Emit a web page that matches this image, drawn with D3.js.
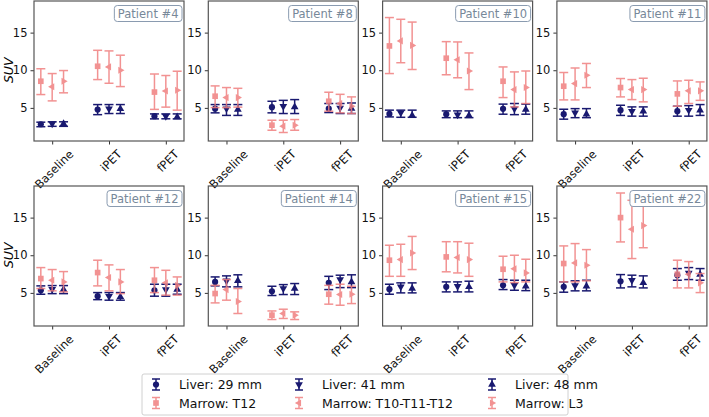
<!DOCTYPE html>
<html>
<head>
<meta charset="utf-8">
<script src="https://cdn.jsdelivr.net/npm/d3@7"></script>
<style>
  body { margin: 0; background: #fff; }
  svg { font-family: "DejaVu Sans", sans-serif; }
</style>
</head>
<body>
<svg id="chart" width="709" height="417"></svg>
<script>
const patients = ['Patient #4', 'Patient #8', 'Patient #10', 'Patient #11',
                  'Patient #12', 'Patient #14', 'Patient #15', 'Patient #22'];
const timepoints = ['Baseline', 'iPET', 'fPET'];
const liverSeries = ['Liver: 29 mm', 'Liver: 41 mm', 'Liver: 48 mm'];
const marrowSeries = ['Marrow: T12', 'Marrow: T10-T11-T12', 'Marrow: L3'];
const yTicks = [5, 10, 15];

// [patient][series][timepoint] = [mean, low, high]
const liverData = [
  [[[2.83, 2.5, 3.1], [4.78, 4.1, 5.44], [3.9, 3.54, 4.2]],
   [[2.9, 2.55, 3.15], [4.87, 4.25, 5.44], [3.9, 3.55, 4.2]],
   [[2.9, 2.55, 3.15], [4.87, 4.25, 5.44], [3.8, 3.54, 4.2]]],
  [[[4.9, 4.34, 5.44], [5.09, 4.34, 5.88], [4.9, 4.38, 5.58]],
   [[4.9, 4.0, 5.44], [5.22, 4.25, 6.0], [5.0, 4.25, 5.58]],
   [[4.78, 4.0, 5.44], [5.13, 4.25, 6.1], [4.9, 4.25, 5.65]]],
  [[[4.2, 3.8, 4.7], [4.16, 3.7, 4.6], [4.87, 4.16, 5.5]],
   [[4.34, 3.75, 4.7], [4.1, 3.7, 4.6], [4.87, 4.1, 5.58]],
   [[4.0, 3.75, 4.7], [4.0, 3.7, 4.6], [4.78, 4.16, 5.5]]],
  [[[4.16, 3.5, 4.82], [4.7, 4.0, 5.35], [4.56, 3.9, 5.22]],
   [[4.34, 3.7, 4.9], [4.56, 3.9, 5.13], [4.7, 3.9, 5.3]],
   [[4.16, 3.7, 4.9], [4.56, 3.9, 5.13], [4.7, 4.0, 5.44]]],
  [[[5.35, 4.82, 5.93], [4.56, 4.1, 5.04], [5.35, 4.56, 6.15]],
   [[5.49, 4.9, 5.97], [4.56, 4.03, 5.04], [5.44, 4.56, 6.15]],
   [[5.44, 4.9, 5.97], [4.47, 4.03, 5.04], [5.44, 4.82, 6.15]]],
  [[[6.46, 5.93, 7.12], [5.22, 4.65, 5.88], [6.33, 5.44, 7.2]],
   [[6.6, 5.8, 7.26], [5.58, 4.78, 6.1], [6.77, 5.7, 7.35]],
   [[6.6, 5.8, 7.4], [5.58, 4.78, 6.24], [6.46, 5.7, 7.4]]],
  [[[5.49, 4.82, 6.15], [5.8, 5.13, 6.46], [6.0, 5.44, 6.77]],
   [[5.8, 5.0, 6.33], [5.88, 5.13, 6.46], [6.0, 5.35, 6.68]],
   [[5.58, 5.0, 6.33], [5.8, 5.13, 6.55], [5.88, 5.3, 6.68]]],
  [[[5.8, 5.09, 6.46], [6.55, 5.66, 7.43], [7.35, 6.68, 8.23]],
   [[5.97, 5.27, 6.6], [6.68, 5.8, 7.35], [7.65, 6.77, 8.36]],
   [[5.88, 5.27, 6.68], [6.33, 5.66, 7.26], [7.43, 6.68, 8.23]]]
];

const marrowData = [
  [[[8.54, 6.77, 10.2], [10.53, 8.76, 12.65], [7.1, 4.8, 9.5]],
   [[7.8, 5.93, 9.56], [10.44, 8.27, 12.57], [7.25, 5.1, 9.3]],
   [[8.54, 7.0, 9.96], [10.0, 7.83, 12.0], [7.35, 4.7, 9.87]]],
  [[[6.55, 5.04, 7.92], [2.7, 2.03, 3.36], [5.88, 4.56, 7.08]],
   [[6.37, 5.04, 7.7], [2.57, 1.73, 3.36], [5.58, 4.34, 6.8]],
   [[6.37, 5.1, 7.6], [2.7, 2.03, 3.45], [5.22, 4.25, 6.46]]],
  [[[13.23, 9.56, 17.0], [11.6, 9.4, 13.8], [8.54, 6.37, 10.44]],
   [[13.9, 11.0, 16.77], [11.4, 9.0, 13.76], [7.43, 5.13, 9.78]],
   [[13.3, 10.1, 16.4], [9.9, 7.43, 12.3], [7.7, 5.58, 9.9]]],
  [[[7.88, 6.06, 9.7], [7.7, 6.46, 8.9], [6.86, 5.22, 8.58]],
   [[8.23, 6.06, 10.3], [7.43, 6.1, 8.76], [7.26, 5.58, 8.67]],
   [[9.34, 7.7, 10.9], [7.43, 5.8, 8.94], [7.26, 6.0, 8.45]]],
  [[[6.9, 5.58, 8.36], [7.7, 5.93, 9.34], [6.68, 5.04, 8.36]],
   [[6.68, 5.27, 8.1], [7.04, 5.27, 8.72], [6.33, 4.7, 8.0]],
   [[6.46, 5.13, 7.83], [6.46, 4.9, 8.1], [6.0, 4.7, 7.12]]],
  [[[4.91, 3.67, 6.0], [2.04, 1.46, 2.6], [4.82, 3.5, 6.0]],
   [[5.44, 4.03, 6.77], [2.26, 1.6, 2.83], [4.78, 3.36, 6.15]],
   [[3.85, 2.26, 5.58], [2.04, 1.46, 2.48], [4.82, 3.58, 5.88]]],
  [[[9.34, 7.2, 11.33], [9.78, 7.8, 11.8], [8.14, 6.46, 9.87]],
   [[9.42, 7.2, 11.46], [9.7, 7.65, 11.8], [8.19, 6.37, 10.0]],
   [[10.3, 8.1, 12.5], [9.42, 7.2, 11.6], [7.65, 6.46, 9.47]]],
  [[[8.9, 6.46, 11.24], [15.0, 11.77, 18.27], [7.48, 5.66, 9.34]],
   [[8.98, 6.46, 11.55], [13.45, 9.56, 17.3], [7.48, 5.66, 9.16]],
   [[8.67, 6.6, 10.75], [13.94, 11.0, 16.95], [6.33, 5.04, 7.57]]]
];

const liverColor = '#191970';
const marrowColor = '#f08080';
const offsets = [-0.2, 0, 0.2];

// marker for each series: symbol type + rotation
const liverMarkers = [
  { type: d3.symbolCircle, size: 30, rot: 0 },
  { type: d3.symbolTriangle, size: 26, rot: 180 },
  { type: d3.symbolTriangle, size: 26, rot: 0 }
];
const marrowMarkers = [
  { type: d3.symbolSquare, size: 32, rot: 0 },
  { type: d3.symbolTriangle, size: 22, rot: -90 },
  { type: d3.symbolTriangle, size: 22, rot: 90 }
];

const svg = d3.select('#chart');

const panelW = 150, panelH = 140;
const lefts = [34, 208.3, 382.6, 556.9];
const tops = [1, 186];

const x = d3.scaleLinear().domain([-0.32, 2.32]).range([0, panelW]);
const y = d3.scaleLinear().domain([0.6, 19.2]).range([panelH, 0]);

function drawSeries(g, data, markers, color, opacity) {
  data.forEach((series, si) => {
    const sg = g.append('g').attr('opacity', opacity);
    series.forEach(([m, lo, hi], ti) => {
      const cx = x(ti + offsets[si]);
      const cap = 4.5;
      sg.append('line')
        .attr('x1', cx).attr('x2', cx)
        .attr('y1', y(lo)).attr('y2', y(hi))
        .attr('stroke', color).attr('stroke-width', 1.5);
      [lo, hi].forEach(v => {
        sg.append('line')
          .attr('x1', cx - cap).attr('x2', cx + cap)
          .attr('y1', y(v)).attr('y2', y(v))
          .attr('stroke', color).attr('stroke-width', 1.5);
      });
      const mk = markers[si];
      sg.append('path')
        .attr('d', d3.symbol().type(mk.type).size(mk.size)())
        .attr('transform', `translate(${cx},${y(m)}) rotate(${mk.rot})`)
        .attr('fill', color);
    });
  });
}

patients.forEach((name, pi) => {
  const col = pi % 4, row = Math.floor(pi / 4);
  const g = svg.append('g')
    .attr('transform', `translate(${lefts[col]},${tops[row]})`);

  // y axis
  const yAxis = g.append('g')
    .call(d3.axisLeft(y).tickValues(yTicks).tickSize(3.5).tickPadding(3));
  yAxis.select('.domain').remove();
  yAxis.selectAll('line').attr('stroke', '#333');
  yAxis.selectAll('text').attr('font-size', 11.5).attr('fill', '#111')
    .attr('font-family', 'DejaVu Sans');

  // x axis
  const xAxis = g.append('g')
    .attr('transform', `translate(0,${panelH})`)
    .call(d3.axisBottom(x).tickValues([0, 1, 2]).tickSize(3.5).tickFormat(''));
  xAxis.select('.domain').remove();
  xAxis.selectAll('line').attr('stroke', '#333');

  timepoints.forEach((tp, ti) => {
    const t = g.append('text')
      .text(tp)
      .attr('font-size', 11.5)
      .attr('fill', '#111')
      .attr('text-anchor', 'middle')
      .attr('dominant-baseline', 'central');
    const L = t.node().getComputedTextLength();
    const h = 11.5;
    const bb = (L + h) * Math.SQRT1_2;
    t.attr('transform',
      `translate(${x(ti) + 2},${panelH + 7 + bb / 2}) rotate(-45)`);
  });

  drawSeries(g, liverData[pi], liverMarkers, liverColor, 1);
  drawSeries(g, marrowData[pi], marrowMarkers, marrowColor, 0.85);

  // frame
  g.append('rect')
    .attr('width', panelW).attr('height', panelH)
    .attr('fill', 'none').attr('stroke', '#555').attr('stroke-width', 1.2);

  // patient label
  const box = g.append('rect');
  const lbl = g.append('text')
    .text(name)
    .attr('font-size', 11.5)
    .attr('fill', '#778899')
    .attr('text-anchor', 'end')
    .attr('x', panelW - 5.5)
    .attr('y', 16.5);
  const tw = lbl.node().getComputedTextLength();
  box.attr('x', panelW - 5.5 - tw - 3.5).attr('y', 4.5)
    .attr('width', tw + 7).attr('height', 16)
    .attr('rx', 3)
    .attr('fill', '#fff').attr('stroke', '#8a9bb0').attr('stroke-width', 1);

  if (col === 0) {
    g.append('text')
      .text('SUV')
      .attr('font-size', 12.5)
      .attr('font-style', 'italic')
      .attr('text-anchor', 'middle')
      .attr('transform', `translate(-21,${y(10)}) rotate(-90)`);
  }
});

// legend
const legend = svg.append('g');
legend.append('rect')
  .attr('x', 142).attr('y', 374).attr('width', 426).attr('height', 41)
  .attr('rx', 2).attr('fill', '#fff').attr('stroke', '#d0d0d0');

const legCols = [156, 299, 492];
const legRows = [384.5, 403];

function legendItem(cx, cy, mk, color, opacity, label) {
  const lg = legend.append('g').attr('opacity', opacity);
  lg.append('line').attr('x1', cx).attr('x2', cx)
    .attr('y1', cy - 5.5).attr('y2', cy + 5.5)
    .attr('stroke', color).attr('stroke-width', 1.5);
  [-5.5, 5.5].forEach(d => {
    lg.append('line').attr('x1', cx - 4).attr('x2', cx + 4)
      .attr('y1', cy + d).attr('y2', cy + d)
      .attr('stroke', color).attr('stroke-width', 1.5);
  });
  lg.append('path')
    .attr('d', d3.symbol().type(mk.type).size(mk.size)())
    .attr('transform', `translate(${cx},${cy}) rotate(${mk.rot})`)
    .attr('fill', color);
  legend.append('text')
    .text(label)
    .attr('x', cx + 23).attr('y', cy)
    .attr('dominant-baseline', 'central')
    .attr('font-size', 12.5)
    .attr('fill', '#111');
}

liverSeries.forEach((s, i) =>
  legendItem(legCols[i], legRows[0], liverMarkers[i], liverColor, 1, s));
marrowSeries.forEach((s, i) =>
  legendItem(legCols[i], legRows[1], marrowMarkers[i], marrowColor, 0.85, s));
</script>
</body>
</html>
